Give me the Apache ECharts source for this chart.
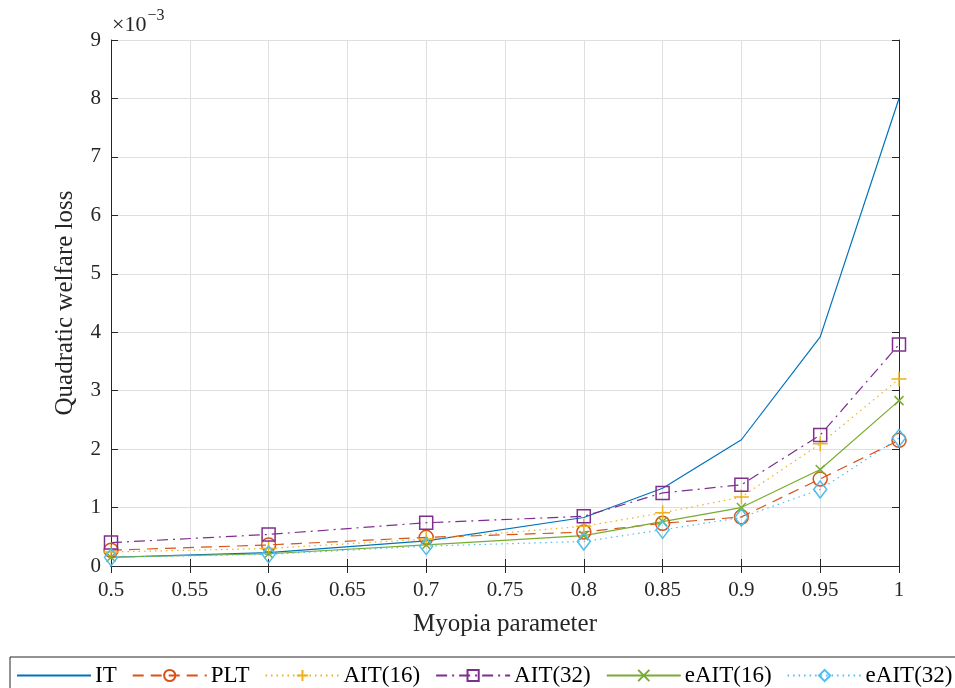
<!DOCTYPE html>
<html>
<head>
<meta charset="utf-8">
<script src="https://cdn.jsdelivr.net/npm/echarts@6/dist/echarts.min.js"></script>
<style>
  html, body { margin: 0; padding: 0; background: #fff; }
  #chart { width: 955px; height: 688px; }
</style>
</head>
<body>
<div id="chart"></div>
<script>
// Myopia parameter values (x)
const myopia = [0.5, 0.6, 0.7, 0.8, 0.85, 0.9, 0.95, 1.0];

// Quadratic welfare loss, in units of 1e-3
const lossIT     = [0.15, 0.23, 0.43, 0.83, 1.33, 2.16, 3.92, 8.00];
const lossPLT    = [0.27, 0.36, 0.49, 0.58, 0.73, 0.84, 1.49, 2.15];
const lossAIT16  = [0.24, 0.30, 0.46, 0.68, 0.91, 1.18, 2.09, 3.20];
const lossAIT32  = [0.40, 0.54, 0.74, 0.85, 1.25, 1.39, 2.24, 3.79];
const lossEAIT16 = [0.15, 0.21, 0.36, 0.52, 0.76, 1.00, 1.65, 2.83];
const lossEAIT32 = [0.15, 0.20, 0.34, 0.42, 0.62, 0.83, 1.31, 2.19];

const seriesNames = ['IT', 'PLT', 'AIT(16)', 'AIT(32)', 'eAIT(16)', 'eAIT(32)'];

const FONT = 'Liberation Serif';
const INK = '#262626';
const GRID = '#dfdfdf';

const plusPath = 'path://M5,0 L5,10 M0,5 L10,5';
const crossPath = 'path://M0,0 L10,10 M0,10 L10,0';

function pairs(ys) { return myopia.map((x, i) => [x, ys[i]]); }

function makeSeries(name, ys, color, dash, symbol, size) {
  return {
    name: name,
    type: 'line',
    data: pairs(ys),
    symbol: symbol,
    symbolSize: size,
    showSymbol: symbol !== 'none',
    lineStyle: { color: color, width: 1.2, type: dash },
    itemStyle: { color: 'rgba(255,255,255,0)', borderColor: color, borderWidth: 1.5 },
    emphasis: { disabled: true },
    animation: false,
    z: 3
  };
}

const chart = echarts.init(document.getElementById('chart'), null, { renderer: 'canvas' });

const axisCommon = {
  axisLine: { show: true, lineStyle: { color: INK, width: 1 } },
  axisTick: { show: true, inside: true, length: 7, lineStyle: { color: INK } },
  splitLine: { show: false }
};

// legend entries; the IT line has no marker
const legendData = seriesNames.map(n =>
  n === 'IT' ? { name: n, itemStyle: { opacity: 0 } } : { name: n });

chart.setOption({
  backgroundColor: '#fff',
  animation: false,
  textStyle: { fontFamily: FONT },
  grid: { left: 111, right: 56, top: 40, bottom: 122, containLabel: false },
  legend: {
    data: legendData,
    left: 10,
    top: 657,
    width: 1400,
    orient: 'horizontal',
    itemWidth: 74,
    itemHeight: 14,
    itemGap: 15,
    padding: [7, 10, 12, 6],
    borderColor: INK,
    borderWidth: 1,
    textStyle: { fontFamily: FONT, fontSize: 23, color: '#000', padding: [0, 0, 0, -1] }
  },
  xAxis: [
    Object.assign({}, axisCommon, {
      type: 'value', min: 0.5, max: 1, interval: 0.05,
      position: 'bottom',
      name: 'Myopia parameter',
      nameLocation: 'middle',
      nameGap: 46,
      nameTextStyle: { fontFamily: FONT, fontSize: 25, color: INK },
      axisLabel: {
        fontFamily: FONT, fontSize: 21, color: INK, margin: 14,
        formatter: v => String(+v.toFixed(2))
      },
      splitLine: { show: true, lineStyle: { color: GRID, width: 1 } }
    }),
    Object.assign({}, axisCommon, {
      type: 'value', min: 0.5, max: 1, interval: 0.05,
      position: 'top',
      axisLabel: { show: false }
    })
  ],
  yAxis: [
    Object.assign({}, axisCommon, {
      type: 'value', min: 0, max: 9, interval: 1,
      position: 'left',
      name: 'Quadratic welfare loss',
      nameLocation: 'middle',
      nameGap: 33,
      nameTextStyle: { fontFamily: FONT, fontSize: 25, color: INK },
      axisLabel: { fontFamily: FONT, fontSize: 21, color: INK, margin: 10 },
      splitLine: { show: true, lineStyle: { color: GRID, width: 1 } }
    }),
    Object.assign({}, axisCommon, {
      type: 'value', min: 0, max: 9, interval: 1,
      position: 'right',
      axisLabel: { show: false }
    })
  ],
  graphic: [{
    type: 'text',
    left: 112,
    top: 8,
    style: {
      text: '{a|\u00d710}{b|\u22123}',
      rich: {
        a: { fontFamily: FONT, fontSize: 22, fill: INK, verticalAlign: 'bottom' },
        b: { fontFamily: FONT, fontSize: 16, fill: INK, verticalAlign: 'top', padding: [0, 0, 12, 1] }
      }
    }
  }],
  series: [
    makeSeries('IT', lossIT, '#0072BD', 'solid', 'none', 0),
    makeSeries('PLT', lossPLT, '#D95319', [11, 7], 'circle', 14),
    makeSeries('AIT(16)', lossAIT16, '#EDB120', [1.5, 4], plusPath, 15),
    makeSeries('AIT(32)', lossAIT32, '#7E2F8E', [11, 5, 2, 5], 'rect', 13),
    makeSeries('eAIT(16)', lossEAIT16, '#77AC30', 'solid', crossPath, 9),
    makeSeries('eAIT(32)', lossEAIT32, '#4DBEEE', [1.5, 4], 'diamond', [13, 17])
  ]
});
</script>
</body>
</html>
